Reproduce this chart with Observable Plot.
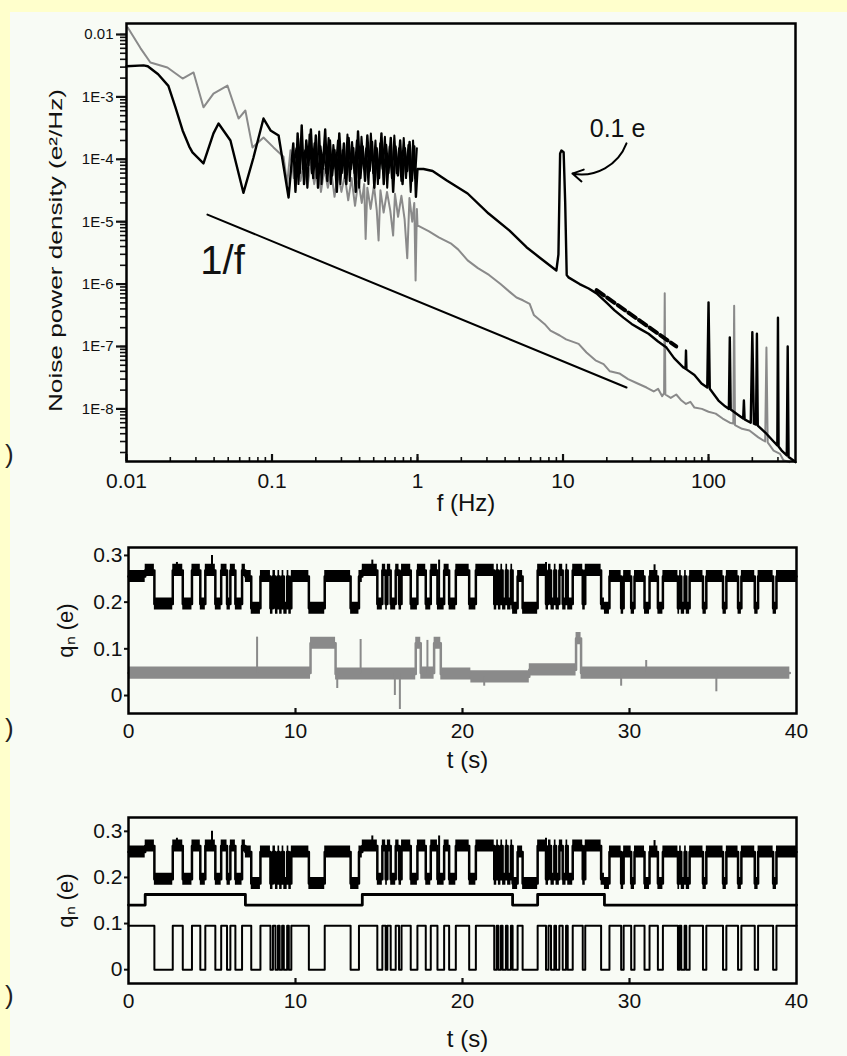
<!DOCTYPE html>
<html><head><meta charset="utf-8">
<script src="https://cdn.jsdelivr.net/npm/d3@7"></script>
<script src="https://cdn.jsdelivr.net/npm/@observablehq/plot@0.6"></script>
<style>
html,body{margin:0;padding:0;background:#FFFFCC;}
#page{position:relative;width:847px;height:1056px;background:#FFFFCC;overflow:hidden;font-family:"Liberation Sans",Arial,sans-serif;}
#inner{position:absolute;left:10px;top:12px;right:0;bottom:0;background:#F8FBF5;}
.panel{position:absolute;left:0;}
.paren{position:absolute;left:5px;font-size:26px;line-height:1;color:#222;}
</style></head><body>
<div id="page">
  <div id="inner"></div>
  <div class="panel" id="p1" style="top:0px"></div>
  <div class="panel" id="p2" style="top:530px"></div>
  <div class="panel" id="p3" style="top:790px"></div>
  <div class="paren" style="top:441px">)</div>
  <div class="paren" style="top:715px">)</div>
  <div class="paren" style="top:982px">)</div>
</div>
<script>
// ---------- Panel (a): noise power density ----------
const fDomain = [0.01, 396];
const vDomain = [1.435e-9, 0.0150];
const xTickValues = [0.01, 0.1, 1, 10, 100];
const xTickLabels = ["0.01", "0.1", "1", "10", "100"];
const yTickValues = [1e-2, 1e-3, 1e-4, 1e-5, 1e-6, 1e-7, 1e-8];
const yTickLabels = ["0.01", "1E-3", "1E-4", "1E-5", "1E-6", "1E-7", "1E-8"];

// black spectrum [f (Hz), S (e^2/Hz)]
const blackPSD = [
 [0.0100,3.1e-3],[0.0131,3.2e-3],[0.0140,3.1e-3],[0.0165,2.3e-3],[0.0194,1.5e-3],[0.0217,6.8e-4],
 [0.0243,2.9e-4],[0.0270,1.6e-4],[0.0284,1.29e-4],[0.0338,8.6e-5],[0.0396,2.6e-4],[0.0429,3.75e-4],
 [0.0518,2.0e-4],[0.0636,2.9e-5],[0.0746,1.07e-4],[0.0874,4.5e-4],[0.0977,2.9e-4],[0.111,2.4e-4],
 [0.130,2.44e-5],[0.140,1.8e-4],[0.145,3.0e-5],[0.150,2.6e-4],[0.155,6.0e-5],[0.160,3.5e-4],
 [0.166,4.0e-5],[0.172,2.0e-4],[0.178,8.0e-5],[0.185,3.0e-4],[0.192,5.0e-5],[0.200,2.4e-4],
 [0.207,3.5e-5],[0.215,1.6e-4],[0.223,7.0e-5],[0.232,3.0e-4],[0.240,4.5e-5],[0.250,2.0e-4],
 [0.259,5.5e-5],[0.269,1.4e-4],[0.279,3.0e-5],[0.290,2.6e-4],[0.301,6.0e-5],[0.312,1.8e-4],
 [0.324,4.0e-5],[0.336,2.2e-4],[0.349,7.0e-5],[0.362,1.5e-4],[0.376,3.0e-5],[0.390,2.8e-4],
 [0.405,5.0e-5],[0.420,1.6e-4],[0.436,4.5e-5],[0.452,2.4e-4],[0.469,6.5e-5],[0.487,1.9e-4],
 [0.505,3.5e-5],[0.524,1.5e-4],[0.544,5.0e-5],[0.565,2.6e-4],[0.586,4.0e-5],[0.608,1.7e-4],
 [0.631,6.0e-5],[0.655,2.2e-4],[0.680,3.0e-5],[0.706,1.6e-4],[0.733,5.5e-5],[0.760,2.0e-4],
 [0.789,4.0e-5],[0.819,1.5e-4],[0.850,6.5e-5],[0.882,1.9e-4],[0.915,4.5e-5],[0.950,1.6e-4],
 [0.975,2.5e-5],[1.00,7.0e-5],[1.10,7.0e-5],[1.27,6.5e-5],[1.58,4.6e-5],[2.21,2.83e-5],
 [3.08,1.35e-5],[4.29,7.2e-6],[5.61,3.9e-6],[7.0,2.6e-6],[9.0,1.65e-6],[9.3,3.0e-6],
 [9.55,1.24e-4],[9.75,1.38e-4],[10.1,1.3e-4],[10.35,2.0e-5],[10.6,1.4e-6],[10.9,1.28e-6],
 [13,1.0e-6],[15,8.5e-7],[17,7.1e-7],[20,5.0e-7],[22.6,3.8e-7],[26,2.9e-7],[29.6,2.3e-7],
 [34,1.9e-7],[38.7,1.6e-7],[45,1.2e-7],[51.4,9.6e-8],[58,6.5e-8],[67.3,4.6e-8],[69.5,4.4e-8],
 [70,8.6e-8],[70.5,4.3e-8],[80,3.5e-8],[89.5,2.55e-8],[98,2.2e-8],[100,5.1e-7],[102,2.1e-8],
 [117,1.36e-8],[130,1.1e-8],[138,1.0e-8],[140,1.4e-7],[142,9.8e-9],[160,8.0e-9],[173,7.0e-9],
 [175,1.36e-8],[177,6.8e-9],[195,6.0e-9],[200,1.7e-7],[205,5.8e-9],[212,5.6e-9],[215,1.6e-7],
 [218,5.4e-9],[250,4.0e-9],[280,3.0e-9],[297,2.6e-9],[300,2.9e-7],[303,2.5e-9],[318,2.15e-9],
 [345,1.8e-9],[350,1.0e-7],[355,1.7e-9],[384,1.49e-9],[396,1.4e-9]
];
// second pass of the dense black fluctuations between 0.14 and 1 Hz
const blackNoise = [
 [0.142,9e-5],[0.147,1.5e-4],[0.152,4e-5],[0.158,2.2e-4],[0.163,7e-5],[0.169,1.4e-4],[0.175,3.5e-5],
 [0.181,2.5e-4],[0.188,6e-5],[0.196,1.8e-4],[0.203,5e-5],[0.211,2.8e-4],[0.219,4e-5],[0.227,1.3e-4],
 [0.236,6e-5],[0.245,2.2e-4],[0.254,4e-5],[0.264,1.7e-4],[0.274,7e-5],[0.284,2.0e-4],[0.295,4e-5],
 [0.306,1.4e-4],[0.318,5e-5],[0.330,2.5e-4],[0.342,4.5e-5],[0.355,1.9e-4],[0.369,6e-5],[0.383,2.0e-4],
 [0.397,3.5e-5],[0.412,2.3e-4],[0.428,7e-5],[0.444,1.5e-4],[0.460,4e-5],[0.478,2.6e-4],[0.496,6e-5],
 [0.514,2.0e-4],[0.534,4e-5],[0.554,1.8e-4],[0.575,7e-5],[0.597,2.3e-4],[0.619,3.5e-5],[0.643,1.6e-4],
 [0.667,5e-5],[0.693,2.4e-4],[0.719,6e-5],[0.746,1.5e-4],[0.774,4.5e-5],[0.804,2.2e-4],[0.834,5e-5],
 [0.866,1.7e-4],[0.898,3e-5],[0.932,2.0e-4],[0.962,5e-5],[0.990,1.5e-4]
];
// grey spectrum
const grayPSD = [
 [0.0102,0.0129],[0.0125,6.0e-3],[0.0146,3.56e-3],[0.0191,2.96e-3],[0.0243,1.97e-3],[0.0289,2.46e-3],
 [0.0338,6.8e-4],[0.0396,1.13e-3],[0.0494,1.52e-3],[0.0589,4.5e-4],[0.0656,6.05e-4],[0.0734,1.55e-4],
 [0.0874,2.23e-4],[0.1024,1.55e-4],[0.120,1.1e-4],[0.127,4.0e-5],[0.134,1.4e-4],[0.141,5.0e-5],
 [0.149,1.2e-4],[0.157,4.5e-5],[0.166,1.0e-4],[0.175,3.5e-5],[0.185,9.0e-5],[0.195,4.0e-5],
 [0.206,8.0e-5],[0.217,3.0e-5],[0.229,7.0e-5],[0.242,3.5e-5],[0.255,6.5e-5],[0.269,2.5e-5],
 [0.284,6.0e-5],[0.300,3.0e-5],[0.316,5.5e-5],[0.334,2.2e-5],[0.352,5.0e-5],[0.372,1.8e-5],
 [0.392,4.5e-5],[0.414,2.0e-5],[0.430,4.0e-5],[0.440,5.3e-6],[0.452,3.5e-5],[0.476,1.6e-5],
 [0.502,3.8e-5],[0.525,1.5e-5],[0.540,5.0e-6],[0.556,3.2e-5],[0.585,1.4e-5],[0.617,3.0e-5],
 [0.650,1.5e-5],[0.680,6.0e-6],[0.700,2.8e-5],[0.735,1.2e-5],[0.775,2.6e-5],[0.815,1.1e-5],
 [0.850,2.6e-6],[0.880,2.4e-5],[0.920,1.0e-5],[0.950,2.0e-5],[0.970,1.14e-6],[0.990,1.6e-5],
 [1.00,8.7e-6],[1.2,7.0e-6],[1.4,5.6e-6],[1.69,4.5e-6],[1.9,3.6e-6],[2.21,2.4e-6],[2.6,1.8e-6],
 [3.1,1.4e-6],[3.72,1.0e-6],[4.3,7.5e-7],[4.79,6.1e-7],[5.3,5.5e-7],[5.9,4.8e-7],[6.3,3.2e-7],
 [7.46,2.3e-7],[8.2,1.8e-7],[9.5,1.5e-7],[10.5,1.3e-7],[12.8,1.1e-7],[14.5,8.0e-8],[16.7,6.0e-8],
 [19,5.2e-8],[21,4.0e-8],[24.4,3.7e-8],[28,3.0e-8],[32,2.6e-8],[37.5,2.2e-8],[42,1.9e-8],
 [45,2.1e-8],[48,1.6e-8],[49.5,1.8e-8],[50,7.1e-7],[50.5,1.7e-8],[55,1.5e-8],[60,1.7e-8],
 [65.2,1.36e-8],[70,1.2e-8],[75,1.3e-8],[80,1.05e-8],[90,1.0e-8],[100,9.0e-9],[112,8.4e-9],
 [125,7.0e-9],[140,6.0e-9],[148,5.8e-9],[150,4.5e-7],[152,5.5e-9],[170,4.8e-9],[191,4.5e-9],
 [220,3.5e-9],[245,3.0e-9],[250,9.6e-8],[255,2.9e-9],[280,2.15e-9],[310,1.9e-9],[327,1.5e-9],[360,1.4e-9]
];
const oneOverF = [[0.036, 1.3e-5], [27.3, 2.2e-8]];
const dashedFit = [[17, 8.0e-7], [60, 1.0e-7]];
const peakLabel = {f: 23.7, v: 3.1e-4, text: "0.1 e"};
const slopeLabel = {f: 0.0457, v: 2.3e-6, text: "1/f"};
const peakArrow = {f1: 27.3, v1: 1.8e-4, f2: 11.6, v2: 5.9e-5};

const FONT = "'Liberation Sans', Arial, Helvetica, sans-serif";
const xLab = new Map(xTickValues.map((d, i) => [d, xTickLabels[i]]));
const yLab = new Map(yTickValues.map((d, i) => [d, yTickLabels[i]]));
const minorX = d3.scaleLog().domain(fDomain).ticks().filter(d => d >= fDomain[0] && d <= fDomain[1]);
const H1 = 530, MT1 = 23, MB1 = 69, PH1 = H1 - MT1 - MB1;

const p1 = Plot.plot({
  width: 847, height: H1, marginLeft: 126, marginRight: 52, marginTop: MT1, marginBottom: MB1,
  style: {background: "transparent", fontFamily: FONT, color: "#111", overflow: "visible"},
  x: {type: "log", domain: fDomain, label: null},
  y: {type: "log", domain: vDomain, label: null},
  marks: [
    Plot.axisY({ticks: 100, tickFormat: () => "", tickSize: 6, strokeWidth: 1.6, label: null}),
    Plot.axisY({ticks: yTickValues, tickFormat: d => yLab.get(d), tickSize: 10, tickPadding: 3, fontSize: 15, strokeWidth: 2.2, label: null}),
    Plot.axisX({ticks: xTickValues, tickFormat: d => xLab.get(d), tickSize: 0, tickPadding: 12, fontSize: 21, label: null}),
    Plot.tickX(minorX, {x: d => d, insetTop: PH1 - 4, strokeWidth: 1.6}),
    Plot.tickX(xTickValues, {x: d => d, insetTop: PH1 - 7, strokeWidth: 2.2}),
    Plot.line(oneOverF, {x: d => d[0], y: d => d[1], stroke: "#000", strokeWidth: 2}),
    Plot.line(grayPSD, {x: d => d[0], y: d => d[1], stroke: "#8a8a8a", strokeWidth: 2}),
    Plot.line(blackNoise, {x: d => d[0], y: d => d[1], stroke: "#000", strokeWidth: 2}),
    Plot.line(blackPSD, {x: d => d[0], y: d => d[1], stroke: "#000", strokeWidth: 2.4}),
    Plot.line(dashedFit, {x: d => d[0], y: d => d[1], stroke: "#000", strokeWidth: 4, strokeDasharray: "9,4"}),
    Plot.arrow([peakArrow], {x1: "f1", y1: "v1", x2: "f2", y2: "v2", bend: 40, headLength: 9, strokeWidth: 2, stroke: "#000"}),
    Plot.text([peakLabel], {x: "f", y: "v", text: "text", fontSize: 25, fill: "#111"}),
    Plot.text([slopeLabel], {x: "f", y: "v", text: "text", fontSize: 40, fill: "#111"}),
    Plot.text(["Noise power density (e²/Hz)"], {frameAnchor: "left", textAnchor: "middle", dx: -71, dy: 8, rotate: -90, fontSize: 19, fill: "#111"}),
    Plot.text(["f (Hz)"], {frameAnchor: "bottom", textAnchor: "middle", dx: 5, dy: 49, fontSize: 24, fill: "#111"}),
    Plot.frame({stroke: "#000", strokeWidth: 2.5})
  ]
});
document.getElementById("p1").appendChild(p1);
d3.select(p1).selectAll("text").filter(function() { return this.textContent.startsWith("Noise"); })
  .each(function() {
    const t = this.getAttribute("transform") || "";
    this.setAttribute("transform", (t + " scale(1.38,1)").trim());
  });

// ---------- Panels (b), (c): time traces ----------
const tDomain = [0, 40];
const tTicks = [0, 10, 20, 30, 40];
const qTicks = [0, 0.1, 0.2, 0.3];
const qTickLabels = ["0", "0.1", "0.2", "0.3"];
// intervals where the fast two-level fluctuator sits in its low state (s)
const fastLow = [
 [1.55,2.65],[3.25,3.8],[4.3,4.6],[5.2,5.55],[5.9,6.1],[6.4,6.8],[7.35,7.9],
 [8.5,8.65],[8.8,8.95],[9.05,9.2],[9.3,9.5],[9.6,9.75],
 [10.8,11.75],[13.3,13.8],
 [14.9,15.2],[15.4,15.5],[15.7,16.0],[16.2,16.35],
 [16.9,17.3],[17.8,18.1],[18.5,18.9],[19.2,19.6],[20.4,20.8],
 [21.9,22.05],[22.15,22.3],[22.4,22.6],[22.7,22.9],[23.0,23.3],
 [23.6,24.5],
 [25.0,25.15],[25.3,25.5],[25.6,25.8],[26.0,26.2],[26.3,26.6],
 [27.2,27.35],[28.3,28.8],
 [29.5,29.65],[30.1,30.3],[30.9,31.2],[31.7,32.0],
 [32.9,33.0],[33.1,33.3],[33.4,33.6],
 [34.4,34.6],[35.6,35.8],[36.5,36.7],[37.5,37.7],[38.6,38.8]
];
// intervals where the slow fluctuator sits in its high state (s)
const slowHigh = [[1.0,7.0],[14.0,23.0],[24.5,28.5]];
// measured charge levels (e): [slow low, slow high]
const blackHighLevel = [0.255, 0.268];
const blackLowLevel = [0.187, 0.196];
const slowStepLevels = [0.14, 0.163];
const fastStepLevels = [0.0, 0.095];
// grey trace: level from each edge time until the next
const grayEdges = [0, 10.9, 12.4, 17.2, 17.5, 18.3, 18.7, 20.5, 24.0, 26.8, 27.1, 39.6];
const grayLevels = [0.048, 0.112, 0.046, 0.112, 0.048, 0.112, 0.046, 0.040, 0.055, 0.122, 0.048, 0.048];
const graySpikes = [[7.7,0.125],[13.9,0.12],[17.9,0.118],[12.5,0.015],[15.95,0.0],[16.25,-0.03],[21.3,0.02],[29.5,0.02],[35.2,0.008],[31.0,0.075]];
const blackSpikes = [[2.9,0.285],[5.0,0.30],[14.6,0.29],[18.6,0.29],[25.0,0.285],[31.5,0.28]];

const inAny = (t, ivs) => ivs.some(([a, b]) => t >= a && t < b);
const edges = Array.from(new Set([tDomain[0], tDomain[1], ...fastLow.flat(), ...slowHigh.flat()])).sort((a, b) => a - b);
const steps = edges.map(t => {
  const fast = inAny(t, fastLow) ? 0 : 1;
  const slow = inAny(t, slowHigh) ? 1 : 0;
  return {t, fast, slow, black: fast ? blackHighLevel[slow] : blackLowLevel[slow],
          slowQ: slowStepLevels[slow], fastQ: fastStepLevels[fast]};
});
const grayRows = grayEdges.map((t, i) => ({t, q: grayLevels[i]}));
const grayAt = t => { let q = grayLevels[0]; grayEdges.forEach((e, i) => { if (t >= e) q = grayLevels[i]; }); return q; };
const blackAt = t => { let q = steps[0].black; steps.forEach(s => { if (t >= s.t) q = s.black; }); return q; };
const qLab = new Map(qTicks.map((d, i) => [d, qTickLabels[i]]));

function tracePanel({height, marginTop, marginBottom, yDomain, extra, titleDy}) {
  const ph = height - marginTop - marginBottom;
  return Plot.plot({
    width: 847, height, marginLeft: 128, marginRight: 51, marginTop, marginBottom,
    style: {background: "transparent", fontFamily: FONT, color: "#111", overflow: "visible"},
    x: {domain: tDomain, label: null},
    y: {domain: yDomain, label: null},
    marks: [
      Plot.axisY({ticks: qTicks, tickFormat: d => qLab.get(d), tickSize: 4, tickPadding: 2, fontSize: 21, strokeWidth: 2, label: null}),
      Plot.axisX({ticks: tTicks, tickSize: 0, tickPadding: 10, fontSize: 21, label: null}),
      Plot.tickX(tTicks.slice(1, -1), {x: d => d, insetTop: ph - 5, strokeWidth: 2.2}),
      Plot.text(["t (s)"], {frameAnchor: "bottom", textAnchor: "middle", dx: 5, dy: titleDy, fontSize: 24, fill: "#111"}),
      Plot.text(["qₙ (e)"], {frameAnchor: "left", textAnchor: "middle", dx: -63, rotate: -90, fontSize: 22, fill: "#111"}),
      ...extra,
      Plot.areaY(steps, {x: "t", y1: d => d.black - 0.013, y2: d => d.black + 0.013, curve: "step-after", fill: "#000"}),
      Plot.line(steps, {x: "t", y: "black", curve: "step-after", stroke: "#000", strokeWidth: 2.5}),
      Plot.ruleX(blackSpikes, {x: d => d[0], y1: d => blackAt(d[0]), y2: d => d[1], stroke: "#000", strokeWidth: 2}),
      Plot.frame({stroke: "#000", strokeWidth: 2.5})
    ]
  });
}

const p2 = tracePanel({
  height: 260, marginTop: 17, marginBottom: 77, yDomain: [-0.0385, 0.317], titleDy: 54,
  extra: [
    Plot.areaY(grayRows, {x: "t", y1: d => d.q - 0.013, y2: d => d.q + 0.013, curve: "step-after", fill: "#8a8a8a"}),
    Plot.line(grayRows, {x: "t", y: "q", curve: "step-after", stroke: "#8a8a8a", strokeWidth: 2.5}),
    Plot.ruleX(graySpikes, {x: d => d[0], y1: d => grayAt(d[0]), y2: d => d[1], stroke: "#8a8a8a", strokeWidth: 2})
  ]
});
document.getElementById("p2").appendChild(p2);

const p3 = tracePanel({
  height: 259, marginTop: 27, marginBottom: 66, yDomain: [-0.03, 0.33], titleDy: 63,
  extra: [
    Plot.line(steps, {x: "t", y: "slowQ", curve: "step-after", stroke: "#000", strokeWidth: 2.8}),
    Plot.line(steps, {x: "t", y: "fastQ", curve: "step-after", stroke: "#000", strokeWidth: 2})
  ]
});
document.getElementById("p3").appendChild(p3);
</script>
</body></html>
